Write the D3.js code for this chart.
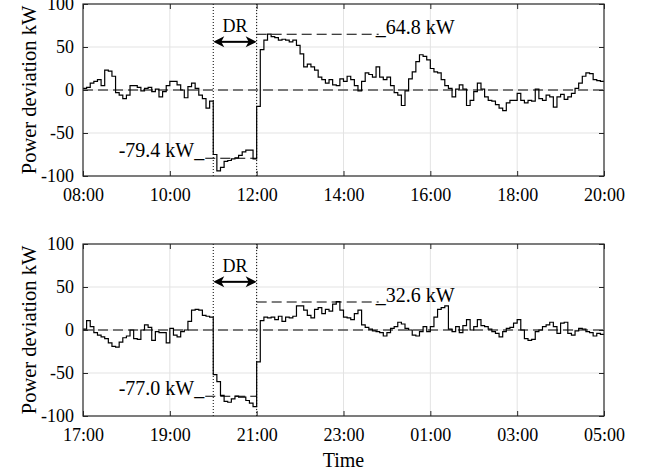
<!DOCTYPE html>
<html>
<head>
<meta charset="utf-8">
<script src="https://cdn.jsdelivr.net/npm/d3@7"></script>
<style>
  body { margin: 0; background: #fff; }
  svg, svg text { font-family: "Liberation Serif", "Times New Roman", serif; }
</style>
</head>
<body>
<div id="chart"></div>
<script>
// tick labels (every 2 h) for the two days
const topTimes = ["08:00", "10:00", "12:00", "14:00", "16:00", "18:00", "20:00"];
const botTimes = ["17:00", "19:00", "21:00", "23:00", "01:00", "03:00", "05:00"];
const hourTicks = [0, 2, 4, 6, 8, 10, 12];
const devTicks = [-100, -50, 0, 50, 100];

// 5-minute power deviation (kW), 144 steps per day
const topDev = [
  2, 3, 8, 10, 12, 5, 23, 22, 16, -3, -6, -10, -6, 5, 5, 3, -1, 2, 3, -2, 1, -8, -2, 5,
  10, 10, 6, 0, -9, 4, 8, 2, -6, -10, -21, -13,
  -75, -94, -90, -83, -82, -80, -79, -76, -72, -70, -70, -80,
  -19, 47, 58, 65, 62, 61, 58, 59, 58, 56, 58, 52, 42, 27, 30, 27, 23, 15, 12, 8, 12, 6,
  5, 13, 10, 16, 12, 5, -1, 10, 20, 18, 15, 27, 15, 12, 15, 5, -3, -6, -18, -1, 13, 21,
  33, 41, 39, 35, 25, 21,
  20, 12, 5, 2, -8, 1, 6, 1, -18, -12, -2, 8, 1, -8, -12, -13, -17, -21, -24, -15,
  -12, -12, -4, -12, -15, -12, -13, 1, -10, -12, -6, -8, -20, -8, -5, -11, -8, -4, 2, 8,
  16, 20, 19, 12, 11, 10
];
const botDev = [
  1, 11, 4, -3, -6, -8, -10, -15, -19, -20, -14, -9, -7, 0, -10, -11, 0, 6, 3, -12, -2, -3,
  -3, -15, 2, -6, -8, -2, 0, 10, 23, 24, 23, 17, 16, 15,
  -52, -60, -76, -83, -84, -80, -77, -78, -78, -82, -85, -89,
  -37, 11, 15, 14, 15, 12, 16, 10, 15, 14, 16, 28, 28, 23, 17, 14, 24, 26, 19, 24, 22, 30,
  33, 23, 15, 14, 12, 19, 23, 6, 3, 1, -1, -2, -3, -7, -3, 2, 4, 9, 7, 2, 0, -6, -7, -2,
  4, -2, 4, 15,
  24, 26, 28, 1, -2, 4, -3, 5, 12, 0, 4, 12, 5, 4, 1, -2, -4, -8, -2, 2, 3, 8, 12, 0,
  -10, -12, -11, -2, 0, 4, 6, 9, 4, -4, 8, 9, -4, -6, -1, 2, 1, -2, -3, -7, -4, -5
];

// DR event window (hours after start) and annotated levels
const drWindow = [3, 4];
const drMean = [-79.4, -77.0];
const reboundPeak = [64.8, 32.6];

const width = 646, height = 474;
const serif = '"Liberation Serif", "Times New Roman", serif';
const svg = d3.select("#chart").append("svg")
  .attr("width", width)
  .attr("height", height)
  .attr("font-family", serif);

// arrow head pointing left, tip at origin
const headPath = "M0,0 L11,-5.5 L8,0 L11,5.5 Z";

function drawPanel(dev, times, mean, peak, y0, y1) {
  const x = d3.scaleLinear().domain([0, 12]).range([83, 604]);
  const y = d3.scaleLinear().domain([-100, 100]).range([y1, y0]);
  const g = svg.append("g");

  // grid
  g.append("g").selectAll("line")
    .data(hourTicks.slice(1, -1))
    .join("line")
      .attr("x1", d => x(d)).attr("x2", d => x(d))
      .attr("y1", y(100)).attr("y2", y(-100))
      .attr("stroke", "#e3e3e3").attr("stroke-width", 1);
  g.append("g").selectAll("line")
    .data(devTicks.slice(1, -1))
    .join("line")
      .attr("x1", x(0)).attr("x2", x(12))
      .attr("y1", d => y(d)).attr("y2", d => y(d))
      .attr("stroke", "#e3e3e3").attr("stroke-width", 1);

  // zero reference
  g.append("line")
    .attr("x1", x(0)).attr("x2", x(12))
    .attr("y1", y(0)).attr("y2", y(0))
    .attr("stroke", "#000").attr("stroke-width", 1.1)
    .attr("stroke-dasharray", "10,5");

  // DR window borders
  g.append("g").selectAll("line")
    .data(drWindow)
    .join("line")
      .attr("x1", d => x(d)).attr("x2", d => x(d))
      .attr("y1", y(100)).attr("y2", y(-100))
      .attr("stroke", "#000").attr("stroke-width", 1)
      .attr("stroke-dasharray", "1,2");

  // mean during DR and rebound peak
  g.append("line")
    .attr("x1", x(drWindow[0]) - 8).attr("x2", x(drWindow[1]))
    .attr("y1", y(mean)).attr("y2", y(mean))
    .attr("stroke", "#000").attr("stroke-width", 1.1)
    .attr("stroke-dasharray", "10,5");
  g.append("line")
    .attr("x1", x(drWindow[1])).attr("x2", x(drWindow[1]) + 122)
    .attr("y1", y(peak)).attr("y2", y(peak))
    .attr("stroke", "#000").attr("stroke-width", 1.1)
    .attr("stroke-dasharray", "10,5");

  // deviation trace
  const pts = dev.map((v, i) => [i / 12, v]);
  pts.push([12, dev[dev.length - 1]]);
  g.append("path")
    .datum(pts)
    .attr("fill", "none")
    .attr("stroke", "#000")
    .attr("stroke-width", 1.2)
    .attr("d", d3.line().curve(d3.curveStepAfter).x(d => x(d[0])).y(d => y(d[1])));

  // axes
  const xb = d3.axisBottom(x).tickValues(hourTicks).tickFormat((d, i) => times[i])
    .tickSizeInner(-5).tickSizeOuter(0).tickPadding(12.5);
  const xt = d3.axisTop(x).tickValues(hourTicks).tickFormat("")
    .tickSizeInner(-5).tickSizeOuter(0);
  const yl = d3.axisLeft(y).tickValues(devTicks).tickFormat(d => String(d))
    .tickSizeInner(-5).tickSizeOuter(0).tickPadding(9);
  const yr = d3.axisRight(y).tickValues(devTicks).tickFormat("")
    .tickSizeInner(-5).tickSizeOuter(0);

  [[xb, `translate(0,${y(-100)})`], [xt, `translate(0,${y(100)})`],
   [yl, `translate(${x(0)},0)`], [yr, `translate(${x(12)},0)`]].forEach(([ax, tr]) => {
    const a = g.append("g").attr("transform", tr).call(ax)
      .attr("font-family", serif).attr("font-size", 18);
    a.select(".domain").remove();
    a.selectAll("line").attr("stroke", "#262626");
    a.selectAll("text").attr("fill", "#000");
  });

  g.append("rect")
    .attr("x", x(0)).attr("y", y(100))
    .attr("width", x(12) - x(0)).attr("height", y(-100) - y(100))
    .attr("fill", "none").attr("stroke", "#262626").attr("stroke-width", 1.2);

  // DR arrow
  const ya = y(56);
  g.append("line")
    .attr("x1", x(drWindow[0]) + 6).attr("x2", x(drWindow[1]) - 6)
    .attr("y1", ya).attr("y2", ya)
    .attr("stroke", "#000").attr("stroke-width", 2);
  g.append("path").attr("d", headPath)
    .attr("transform", `translate(${x(drWindow[0])},${ya})`);
  g.append("path").attr("d", headPath)
    .attr("transform", `translate(${x(drWindow[1])},${ya}) scale(-1,1)`);
  g.append("text")
    .attr("x", x(d3.mean(drWindow))).attr("y", ya - 10)
    .attr("text-anchor", "middle").attr("font-size", 18)
    .text("DR");

  // level labels
  g.append("text")
    .attr("x", x(drWindow[0]) - 9).attr("y", y(mean) - 1)
    .attr("text-anchor", "end").attr("font-size", 20)
    .text(mean.toFixed(1) + " kW_");
  g.append("text")
    .attr("x", x(drWindow[1]) + 119).attr("y", y(peak))
    .attr("font-size", 20)
    .text("_" + peak.toFixed(1) + " kW");

  // y label
  g.append("text")
    .attr("transform", `translate(36,${(y0 + y1) / 2}) rotate(-90)`)
    .attr("text-anchor", "middle").attr("font-size", 20.5)
    .text("Power deviation kW");
}

drawPanel(topDev, topTimes, drMean[0], reboundPeak[0], 4, 176);
drawPanel(botDev, botTimes, drMean[1], reboundPeak[1], 244, 416);

svg.append("text")
  .attr("x", (83 + 604) / 2).attr("y", 467)
  .attr("text-anchor", "middle").attr("font-size", 20)
  .text("Time");
</script>
</body>
</html>
